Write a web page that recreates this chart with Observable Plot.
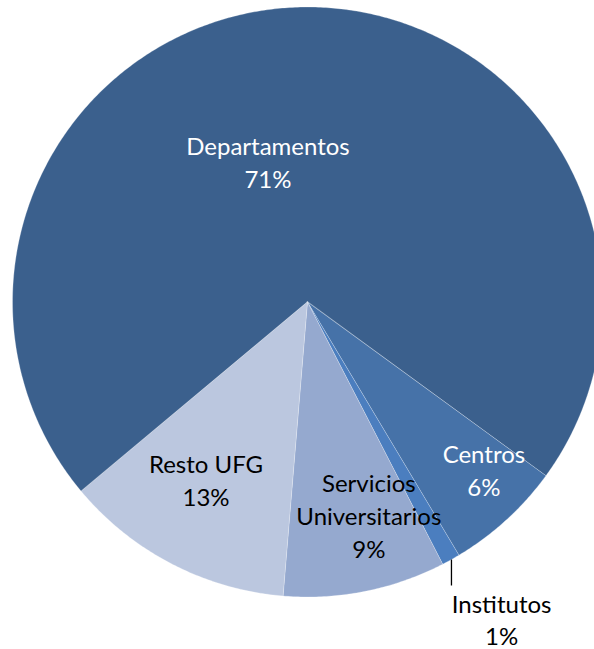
<!DOCTYPE html>
<html>
<head>
<meta charset="utf-8">
<script src="https://cdn.jsdelivr.net/npm/d3@7"></script>
<script src="https://cdn.jsdelivr.net/npm/@observablehq/plot@0.6"></script>
<style>
  html, body { margin: 0; padding: 0; background: #ffffff; }
  #chart svg { display: block; }
</style>
</head>
<body>
<div id="chart"></div>
<script>
// ---- Data ----
const categories = ["Departamentos", "Centros", "Institutos", "Servicios Universitarios", "Resto UFG"];
const shares = [71.1, 6.4, 1.0, 8.9, 12.6];
const percentLabels = ["71%", "6%", "1%", "9%", "13%"];

// ---- Style / layout ----
const sliceColors = ["#3B608D", "#4672A8", "#4B7EBF", "#95A9CF", "#BBC7DF"];
const textColors = ["#ffffff", "#ffffff", "#000000", "#000000", "#000000"];
const firstSliceAngleDeg = 230.1;           // clockwise from 12 o'clock
const labelU = [-0.134, 0.598, 0.658, 0.208, -0.344];   // label centres, radius units
const labelV = [0.468, -0.576, -1.083, -0.731, -0.610];
const leaderU = 0.488, leaderBottomV = -0.961;          // Institutos leader line

const W = 594, H = 649;
const cx = 307, cy = 301.5, R = 295;

// ---- Geometry from the data ----
const start = firstSliceAngleDeg * Math.PI / 180;
const arcs = d3.pie().sort(null).startAngle(start).endAngle(start + 2 * Math.PI)(shares);

const polyPts = [];
arcs.forEach((a, i) => {
  const name = categories[i];
  polyPts.push({name, u: 0, v: 0});
  const n = Math.max(2, Math.ceil((a.endAngle - a.startAngle) / (Math.PI / 360)));
  for (let k = 0; k <= n; k++) {
    const t = a.startAngle + (a.endAngle - a.startAngle) * k / n;
    polyPts.push({name, u: Math.sin(t), v: Math.cos(t)});
  }
});

const labelData = categories.map((c, i) => ({
  text: (c === "Servicios Universitarios" ? "Servicios\nUniversitarios" : c) + "\n" + percentLabels[i],
  u: labelU[i], v: labelV[i], color: textColors[i]
}));

const leader = [{u1: leaderU, v1: -Math.sqrt(1 - leaderU * leaderU), u2: leaderU, v2: leaderBottomV}];

const chart = Plot.plot({
  width: W,
  height: H,
  margin: 0,
  style: {background: "#ffffff", fontFamily: "Lato, 'Open Sans', sans-serif"},
  x: {domain: [(0 - cx) / R, (W - cx) / R], range: [0, W], axis: null},
  y: {domain: [(cy - H) / R, cy / R], range: [H, 0], axis: null},
  color: {domain: categories, range: sliceColors},
  marks: [
    Plot.line(polyPts, {
      x: "u", y: "v", z: "name",
      fill: "name",
      stroke: "#ffffff", strokeWidth: 0.6, strokeOpacity: 0.45,
      curve: "linear-closed"
    }),
    Plot.link(leader, {x1: "u1", y1: "v1", x2: "u2", y2: "v2", stroke: "#000000", strokeWidth: 1.3}),
    Plot.text(labelData, {
      x: "u", y: "v", text: "text",
      fill: d => d.color,
      fontSize: 24,
      lineHeight: 1.36,
      dy: -3,
      fontFamily: "Lato, 'Open Sans', sans-serif",
      textAnchor: "middle"
    })
  ]
});

document.getElementById("chart").appendChild(chart);
</script>
</body>
</html>
